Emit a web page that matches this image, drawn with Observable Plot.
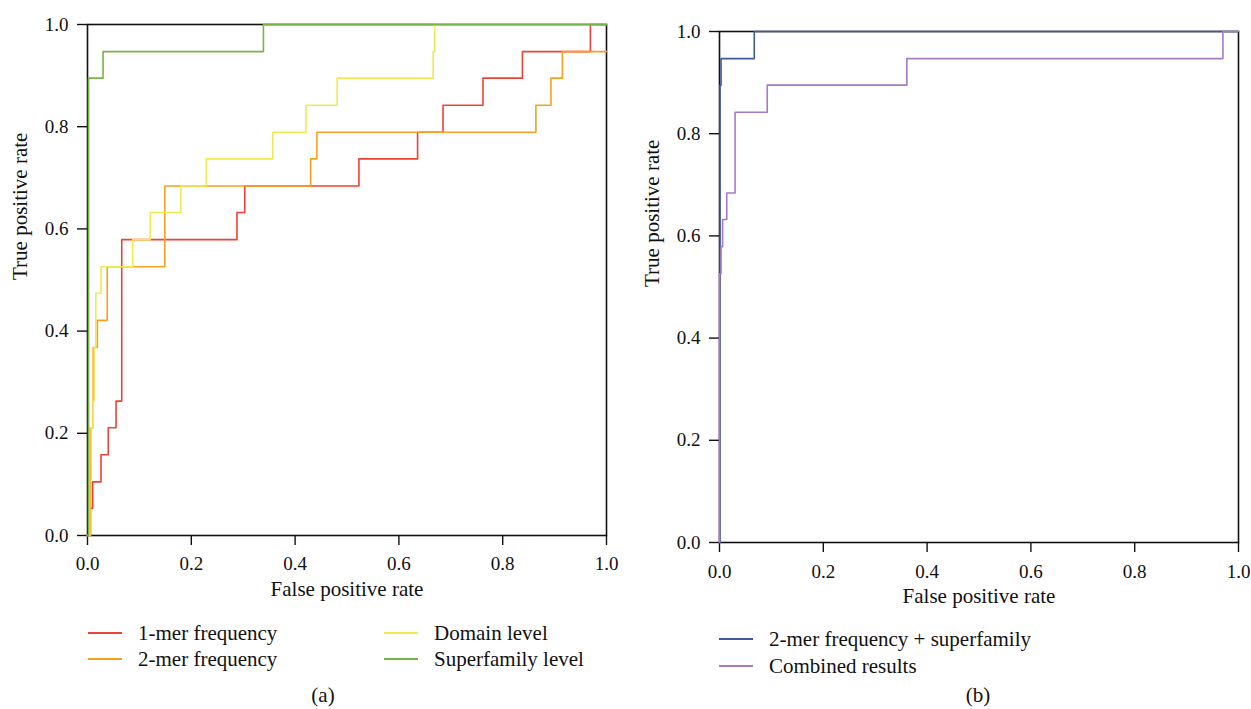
<!DOCTYPE html>
<html>
<head>
<meta charset="utf-8">
<script src="https://cdn.jsdelivr.net/npm/d3@7"></script>
<script src="https://cdn.jsdelivr.net/npm/@observablehq/plot@0.6"></script>
<style>
  html, body { margin: 0; padding: 0; background: #fff; }
  #root { position: relative; width: 1251px; height: 709px; overflow: hidden; font-family: "Liberation Serif", serif; color: #111; }
  .panel { position: absolute; top: 0; }
  .leg { position: absolute; font-size: 21px; line-height: 1; white-space: nowrap; }
  .leg .sw { position: absolute; width: 34px; height: 2px; top: -1px; left: 0px; }
  .leg .tx { position: absolute; transform: translateY(-50%); }
  .cap { position: absolute; font-size: 21px; transform: translate(-50%, -50%); }
</style>
</head>
<body>
<div id="root"></div>
<script>
// ---------------- data ----------------
const tickValues = [0, 0.2, 0.4, 0.6, 0.8, 1.0];

const seriesA = ["1-mer frequency", "2-mer frequency", "Domain level", "Superfamily level"];
const colorsA = ["#ee4236", "#f6a020", "#f2e852", "#78b445"];

const fpr1mer = [0, 0.005, 0.005, 0.010, 0.010, 0.026, 0.026, 0.040, 0.040, 0.055, 0.055, 0.066, 0.066, 0.288, 0.288, 0.303, 0.303, 0.523, 0.523, 0.636, 0.636, 0.685, 0.685, 0.762, 0.762, 0.838, 0.838, 0.969, 0.969, 1.0];
const tpr1mer = [0, 0, 0.053, 0.053, 0.105, 0.105, 0.158, 0.158, 0.211, 0.211, 0.263, 0.263, 0.579, 0.579, 0.632, 0.632, 0.684, 0.684, 0.737, 0.737, 0.789, 0.789, 0.842, 0.842, 0.895, 0.895, 0.947, 0.947, 1.0, 1.0];

const fpr2mer = [0, 0.006, 0.006, 0.011, 0.011, 0.019, 0.019, 0.038, 0.038, 0.149, 0.149, 0.430, 0.430, 0.442, 0.442, 0.864, 0.864, 0.893, 0.893, 0.915, 0.915, 1.0];
const tpr2mer = [0, 0, 0.211, 0.211, 0.368, 0.368, 0.421, 0.421, 0.526, 0.526, 0.684, 0.684, 0.737, 0.737, 0.789, 0.789, 0.842, 0.842, 0.895, 0.895, 0.947, 0.947];

const fprDomain = [0, 0.004, 0.004, 0.011, 0.011, 0.013, 0.013, 0.016, 0.016, 0.026, 0.026, 0.087, 0.087, 0.121, 0.121, 0.180, 0.180, 0.229, 0.229, 0.357, 0.357, 0.421, 0.421, 0.481, 0.481, 0.666, 0.666, 0.669, 0.669, 1.0];
const tprDomain = [0, 0, 0.211, 0.211, 0.263, 0.263, 0.368, 0.368, 0.474, 0.474, 0.526, 0.526, 0.579, 0.579, 0.632, 0.632, 0.684, 0.684, 0.737, 0.737, 0.789, 0.789, 0.842, 0.842, 0.895, 0.895, 0.947, 0.947, 1.0, 1.0];

const fprSuper = [0, 0.002, 0.002, 0.030, 0.030, 0.339, 0.339, 1.0];
const tprSuper = [0, 0, 0.895, 0.895, 0.947, 0.947, 1.0, 1.0];

const seriesB = ["2-mer frequency + superfamily", "Combined results"];
const colorsB = ["#3d5a9c", "#a67ac6"];

const fprMerSuper = [0, 0.001, 0.001, 0.003, 0.003, 0.067, 0.067, 1.0];
const tprMerSuper = [0, 0, 0.895, 0.895, 0.947, 0.947, 1.0, 1.0];

const fprCombined = [0, 0, 0.003, 0.003, 0.006, 0.006, 0.014, 0.014, 0.030, 0.030, 0.092, 0.092, 0.361, 0.361, 0.970, 0.970, 1.0];
const tprCombined = [0, 0.526, 0.526, 0.579, 0.579, 0.632, 0.632, 0.684, 0.684, 0.842, 0.842, 0.895, 0.895, 0.947, 0.947, 1.0, 1.0];

// ---------------- build ----------------
function rows(fpr, tpr, name) { return fpr.map((x, i) => ({fpr: x, tpr: tpr[i], name})); }

const dataA = [
  ...rows(fpr1mer, tpr1mer, seriesA[0]),
  ...rows(fpr2mer, tpr2mer, seriesA[1]),
  ...rows(fprDomain, tprDomain, seriesA[2]),
  ...rows(fprSuper, tprSuper, seriesA[3])
];
const dataB = [
  ...rows(fprMerSuper, tprMerSuper, seriesB[0]),
  ...rows(fprCombined, tprCombined, seriesB[1])
];

const fmt = d3.format(".1f");

function rocPlot(data, series, colors, opts) {
  return Plot.plot({
    width: opts.width,
    height: opts.height,
    marginLeft: opts.ml,
    marginRight: opts.mr,
    marginTop: opts.mt,
    marginBottom: opts.mb,
    style: {fontFamily: "Liberation Serif, serif", fontSize: "19px", color: "#111", background: "white", overflow: "visible"},
    x: {domain: [0, 1]},
    y: {domain: [0, 1]},
    color: {domain: series, range: colors},
    marks: [
      Plot.axisX({ticks: tickValues, tickFormat: fmt, tickSize: 10, tickPadding: opts.xpad, label: null, strokeWidth: 1.4}),
      Plot.axisY({ticks: tickValues, tickFormat: fmt, tickSize: 10, tickPadding: 9, label: null, strokeWidth: 1.4}),
      Plot.frame({stroke: "#111", strokeWidth: 1.6}),
      Plot.line(data, {x: "fpr", y: "tpr", z: "name", stroke: "name", strokeWidth: 1.6, curve: "linear"}),
      Plot.text(["False positive rate"], {frameAnchor: "bottom", dy: opts.xlabDy, fontSize: 21}),
      Plot.text(["True positive rate"], {frameAnchor: "left", dx: -67, rotate: -90, fontSize: 21})
    ]
  });
}

const root = document.getElementById("root");

const pa = document.createElement("div");
pa.className = "panel"; pa.style.left = "0px";
pa.appendChild(rocPlot(dataA, seriesA, colorsA, {width: 625, height: 610, ml: 87, mr: 19, mt: 24, mb: 75, xlabDy: 60, xpad: 11}));
root.appendChild(pa);

const pb = document.createElement("div");
pb.className = "panel"; pb.style.left = "625px";
pb.appendChild(rocPlot(dataB, seriesB, colorsB, {width: 626, height: 620, ml: 94, mr: 13, mt: 31, mb: 78, xlabDy: 60, xpad: 12}));
root.appendChild(pb);

// legends
function legendItem(name, color, x, y) {
  const d = document.createElement("div");
  d.className = "leg";
  d.style.left = x + "px"; d.style.top = y + "px";
  const sw = document.createElement("div");
  sw.className = "sw"; sw.style.backgroundColor = color;
  const tx = document.createElement("div");
  tx.className = "tx"; tx.textContent = name; tx.style.left = "50px"; tx.style.top = "0px";
  d.appendChild(sw); d.appendChild(tx);
  root.appendChild(d);
}
legendItem(seriesA[0], colorsA[0], 88, 633);
legendItem(seriesA[1], colorsA[1], 88, 659);
legendItem(seriesA[2], colorsA[2], 384, 633);
legendItem(seriesA[3], colorsA[3], 384, 659);
legendItem(seriesB[0], colorsB[0], 719, 639);
legendItem(seriesB[1], colorsB[1], 719, 666);

function caption(t, x, y) {
  const c = document.createElement("div");
  c.className = "cap"; c.textContent = t;
  c.style.left = x + "px"; c.style.top = y + "px";
  root.appendChild(c);
}
caption("(a)", 323, 695);
caption("(b)", 978, 695);
</script>
</body>
</html>
